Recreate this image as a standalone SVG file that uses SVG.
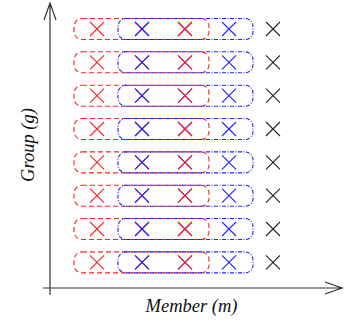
<svg xmlns="http://www.w3.org/2000/svg" width="344" height="320" viewBox="0 0 344 320">
<defs>
<style>
.ax{stroke:#333;stroke-width:1.2;fill:none}
.r{stroke:#f22;stroke-width:1.1;fill:none}
.b{stroke:#22f;stroke-width:1.1;fill:none}
.k{stroke:#222;stroke-width:1.1;fill:none}
.rr{stroke:#f22;stroke-width:1.1;fill:none;stroke-dasharray:5,3}
.br{stroke:#22f;stroke-width:1.1;fill:none;stroke-dasharray:4,1.5,1,1.5}
.lbl{font-family:"Liberation Serif",serif;font-style:italic;font-size:18.5px;fill:#111}
</style>
<path id="x" d="M-7,-7L7,7M-7,7L7,-7"/>
<g id="row">
<rect class="rr" x="74" y="-10.5" width="135" height="21" rx="8"/>
<rect class="br" x="118" y="-10.5" width="135" height="21" rx="8"/>
<use href="#x" class="r" x="97"/>
<use href="#x" class="r" x="142"/>
<use href="#x" class="b" x="142"/>
<use href="#x" class="b" x="185"/>
<use href="#x" class="r" x="185"/>
<use href="#x" class="b" x="229"/>
<use href="#x" class="k" x="273"/>
</g>
</defs>
<g id="axes">
<path class="ax" d="M50,3V295M44,20L50,3L56,20"/>
<path class="ax" d="M43,288H342M325,282L342,288L325,294"/>
</g>
<g id="rows">
<use href="#row" y="29"/>
<use href="#row" y="62.3"/>
<use href="#row" y="95.7"/>
<use href="#row" y="129"/>
<use href="#row" y="162.4"/>
<use href="#row" y="195.7"/>
<use href="#row" y="229"/>
<use href="#row" y="262.4"/>
</g>
<text class="lbl" x="191.5" y="312" text-anchor="middle">Member (m)</text>
<text class="lbl" transform="translate(33.5,145) rotate(-90)" text-anchor="middle">Group (g)</text>
</svg>
